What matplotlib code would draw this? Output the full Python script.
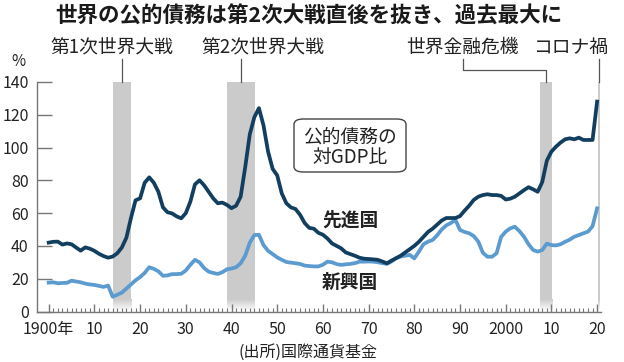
import matplotlib
matplotlib.use("Agg")
import matplotlib.pyplot as plt
import numpy as np
from matplotlib.patches import FancyBboxPatch
from matplotlib.colors import LinearSegmentedColormap

plt.rcParams['font.family'] = ['Noto Sans CJK JP', 'DejaVu Sans']

years = list(range(1900, 2021))

advanced = [42.0, 42.5, 42.6, 40.8, 41.5, 41.0, 39.0, 37.1, 39.1, 38.3,
            37.0, 35.2, 33.8, 32.8, 33.5, 35.5, 39.0, 45.0, 57.0, 67.8,
            69.0, 78.5, 81.8, 78.5, 73.0, 63.5, 60.5, 59.8, 58.0, 56.8,
            60.0, 67.0, 77.5, 80.0, 77.0, 73.0, 69.0, 66.0, 66.4, 65.0,
            63.0, 64.5, 70.0, 88.0, 108.0, 118.5, 124.0, 113.5, 97.5, 87.0,
            83.0, 72.0, 66.0, 63.5, 62.5, 59.0, 54.0, 51.0, 50.5, 48.0,
            46.8, 44.5, 41.5, 40.0, 38.5, 36.0, 35.0, 34.0, 32.8, 32.2,
            32.0, 31.8, 31.5, 30.5, 29.4, 31.0, 32.5, 34.0, 36.0, 38.0,
            40.0, 42.5, 45.5, 48.5, 50.5, 53.0, 55.5, 57.0, 57.0, 57.0,
            58.2, 61.5, 64.5, 68.0, 70.0, 71.0, 71.5, 71.0, 71.0, 70.5,
            68.3, 68.8, 70.0, 72.0, 74.0, 75.8, 74.5, 73.0, 79.0, 92.0,
            97.5, 100.5, 103.0, 105.0, 105.6, 105.0, 106.0, 104.6, 104.6, 104.6,
            128.0]

emerging = [17.6, 17.8, 17.2, 17.4, 17.5, 18.8, 18.3, 17.8, 17.0, 16.5,
            16.2, 15.6, 15.0, 15.8, 9.0, 10.2, 11.5, 14.0, 16.5, 19.0,
            21.0, 23.5, 27.0, 26.0, 24.5, 21.8, 22.0, 22.8, 22.8, 23.0,
            25.0, 28.5, 31.5, 30.0, 26.5, 24.3, 23.5, 22.9, 24.0, 25.7,
            26.2, 27.0, 29.4, 34.0, 42.0, 46.6, 46.8, 40.5, 37.0, 35.0,
            33.0, 31.5, 30.2, 29.8, 29.4, 29.0, 28.0, 27.7, 27.5, 27.5,
            28.5, 30.4, 30.0, 28.9, 28.4, 28.8, 29.0, 29.5, 30.4, 30.4,
            30.5, 30.4, 30.0, 29.5, 29.0, 30.5, 32.5, 33.5, 34.0, 34.5,
            32.4, 36.5, 41.0, 42.6, 43.6, 46.5, 50.0, 52.5, 54.0, 55.8,
            49.7, 48.5, 47.7, 46.0, 42.6, 35.8, 33.4, 33.4, 35.5, 45.5,
            48.7, 50.7, 51.7, 49.0, 45.6, 41.0, 37.5, 36.5, 37.5, 41.4,
            40.5, 40.3, 41.0, 42.5, 43.8, 45.6, 46.6, 47.7, 48.7, 52.0,
            62.9]

crisis_names = ['第1次世界大戦', '第2次世界大戦', '世界金融危機', 'コロナ禍']
crisis_spans = [(1914.0, 1918.0), (1939.1, 1945.1), (2007.4, 2010.2), (2020.2, 2020.6)]

xtick_years = list(range(1900, 2021, 10))
xtick_labels = ['1900年', '10', '20', '30', '40', '50', '60', '70', '80', '90', '2000', '10', '20']
ytick_vals = [0, 20, 40, 60, 80, 100, 120, 140]
ytick_labels = [str(v) for v in ytick_vals]

title = '世界の公的債務は第2次大戦直後を抜き、過去最大に'
source = '(出所)国際通貨基金'

W, H = 624, 362
fig = plt.figure(figsize=(W / 100, H / 100), dpi=100)
fig.patch.set_facecolor('white')
ax = fig.add_axes([37 / W, (H - 311.5) / H, 564 / W, 229.6 / H])

band_color = '#cbcbcb'
fade = LinearSegmentedColormap.from_list('fade', ['#ffffff', band_color])
grad = np.linspace(0, 1, 50).reshape(-1, 1)
for (a, b) in crisis_spans:
    ax.axvspan(a, b, ymin=7 / 140, ymax=1, color=band_color, lw=0, zorder=1)
    ax.imshow(grad, extent=(a, b, 0, 7), origin='lower', cmap=fade,
              aspect='auto', zorder=1, interpolation='bilinear')

ax.set_xlim(1897.44, 2020.85)
ax.set_ylim(0, 140)

dark = '#123f60'
light = '#5b9bd0'
ax.plot(years, emerging, color=light, lw=2.7, solid_joinstyle='round', zorder=3)
ax.plot(years, advanced, color=dark, lw=2.7, solid_joinstyle='round', zorder=4)

for s in ['top', 'right']:
    ax.spines[s].set_visible(False)
for s in ['left', 'bottom']:
    ax.spines[s].set_color('#777777')
    ax.spines[s].set_linewidth(1.0)

ax.set_yticks(ytick_vals)
ax.set_yticklabels(ytick_labels)
ax.tick_params(axis='y', direction='in', length=10.5, width=1.0, color='#777777',
               labelsize=11.5, pad=6, labelcolor='#222222')
ax.set_xticks(xtick_years)
ax.set_xticklabels(xtick_labels)
ax.set_xticks(years, minor=True)
ax.tick_params(axis='x', which='major', direction='in', length=6, width=1.0,
               color='#777777', labelsize=11.5, pad=7, labelcolor='#222222')
ax.tick_params(axis='x', which='minor', direction='in', length=3, width=0.8,
               color='#777777')

lc = '#555555'
ax.plot([1916.0, 1916.0], [140, 153.8], color=lc, lw=0.9, clip_on=False)
ax.plot([1942.1, 1942.1], [140, 153.8], color=lc, lw=0.9, clip_on=False)
ax.plot([1990.6, 1990.6, 2008.8, 2008.8], [153.8, 147.3, 147.3, 140], color=lc, lw=0.9, clip_on=False)
ax.plot([2020.4, 2020.4], [140, 153.8], color=lc, lw=0.9, clip_on=False)

label_x = [112, 263, 462, 571]
for name, px in zip(crisis_names, label_x):
    fig.text(px / W, 1 - 47.5 / H, name, ha='center', va='center', fontsize=13.5, color='#222222')

fig.text(309 / W, 1 - 16 / H, title, ha='center', va='center', fontsize=15.5,
         fontweight='bold', color='#1a1a1a')
fig.text(18 / W, 1 - 62 / H, '%', ha='center', va='center', fontsize=11, color='#222222')
fig.text(308 / W, 1 - 352 / H, source, ha='center', va='center', fontsize=11.5, color='#222222')

fig.text(350 / W, 1 - 220 / H, '先進国', ha='center', va='center', fontsize=13.5,
         fontweight='bold', color='#222222')
fig.text(350 / W, 1 - 282 / H, '新興国', ha='center', va='center', fontsize=13.5,
         fontweight='bold', color='#222222')

box = FancyBboxPatch((294 / W, 1 - 172 / H), 112 / W, 53 / H,
                     boxstyle='round,pad=0,rounding_size=0.015',
                     transform=fig.transFigure, facecolor='white',
                     edgecolor='#444444', lw=1.0)
fig.patches.append(box)
fig.text(350 / W, 1 - 137 / H, '公的債務の', ha='center', va='center', fontsize=13.5, color='#222222')
fig.text(350 / W, 1 - 157 / H, '対GDP比', ha='center', va='center', fontsize=13.5, color='#222222')

fig.savefig('out.png', dpi=100)
